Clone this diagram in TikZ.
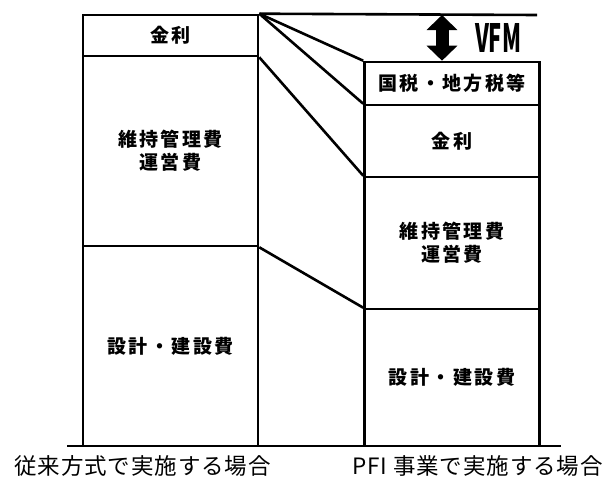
\documentclass[tikz,border=0pt]{standalone}
\usepackage{fontspec}
\setmainfont{Noto Sans CJK JP}
\newfontfamily\boxfont{Noto Sans CJK JP}[LetterSpace=13]
\newfontfamily\capfont{Noto Sans CJK JP}[LetterSpace=4]
\usetikzlibrary{arrows.meta, positioning, calc}

\begin{document}
\begin{tikzpicture}[
    x=1pt, y=-1pt,
    line width=2.6pt,
    % column boxes, 175 wide
    cost_box/.style={rectangle, draw, minimum width=175pt, inner sep=0pt, align=center,
        font=\boxfont\bfseries\fontsize{19}{23}\selectfont},
    cap_lbl/.style={font=\capfont\fontsize{22.5}{26}\selectfont, inner sep=0pt},
    vfm_arrow/.style={line width=13pt, {Triangle[width=30pt, length=15pt]}-{Triangle[width=30pt, length=15pt]}}
]
    \useasboundingbox (0,0) rectangle (607,477);

    % --- Conventional (left column) ---
    \node[cost_box, minimum height=41pt]  (Lrate)  at (170.5, 35.5)  {金利};
    \node[cost_box, minimum height=190pt] (Lmaint) at (170.5, 151)   {維持管理費\\運営費};
    \node[cost_box, minimum height=200pt] (Lbuild) at (170.5, 346)   {設計・建設費};

    % --- PFI (right column) ---
    \node[cost_box, minimum height=43pt]  (Rtax)   at (452, 83.5)   {国税・地方税等};
    \node[cost_box, minimum height=72pt]  (Rrate)  at (452, 141)    {金利};
    \node[cost_box, minimum height=132pt] (Rmaint) at (452, 243)    {維持管理費\\運営費};
    \node[cost_box, minimum height=137pt] (Rbuild) at (452, 377.5)  {設計・建設費};

    % --- Top level line and baseline ---
    \coordinate (topE) at (537, 15);
    \coordinate (baseW) at (67, 446);
    \coordinate (baseE) at (561, 446);
    \draw (Lrate.north east) -- (topE);
    \draw (baseW) -- (baseE);

    % --- Guide lines between the columns ---
    \draw (Lrate.north east) -- (Rtax.north west);
    \draw (Lrate.north east) -- (Rrate.north west);
    \draw (Lrate.south east) -- (Rmaint.north west);
    \draw (Lmaint.south east) -- (Rbuild.north west);

    % --- VFM gap ---
    \coordinate (vfmT) at (442, 15);
    \draw[vfm_arrow] (vfmT) -- (vfmT |- Rtax.north);
    \node[inner sep=0pt] (vfm) at (498, 37.5) {\resizebox{46pt}{29pt}{\bfseries VFM}};

    % --- Captions ---
    \node[cap_lbl] (capL) at (142.5, 466) {従来方式で実施する場合};
    \node[cap_lbl] (capR) at (477.5, 466) {PFI 事業で実施する場合};
\end{tikzpicture}
\end{document}
